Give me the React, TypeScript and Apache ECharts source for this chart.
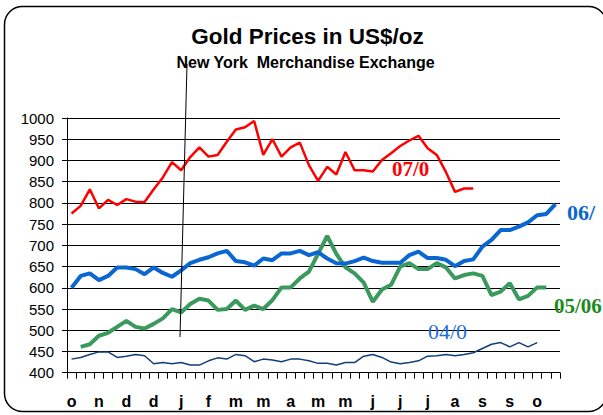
import React, { useEffect, useRef } from 'react';
import * as echarts from 'echarts';

// 54 weekly-ish categories
const weeks = Array.from({ length: 54 }, (_, i) => `w${i + 1}`);

// tick labels (every third category)
const tickLabels = [
  'o', '', '', 'n', '', '', 'd', '', '', 'd', '', '', 'j', '', '', 'f', '', '',
  'm', '', '', 'm', '', '', 'a', '', '', 'm', '', '', 'm', '', '', 'j', '', '',
  'j', '', '', 'j', '', '', 'a', '', '', 's', '', '', 's', '', '', 'o', '', '',
];

const s0708 = [
  775, 793, 832, 787, 807, 795, 809, 803, 802, 832, 860, 896, 877, 908, 931, 909, 913, 944,
  973, 978, 993, 913, 950, 909, 931, 942, 889, 852, 885, 867, 920, 877, 877, 874, 901, 917,
  934, 947, 958, 929, 913, 873, 826, 834, 834, null, null, null, null, null, null, null, null, null,
];

const s0607 = [
  600, 628, 634, 618, 628, 648, 648, 644, 632, 648, 635, 626, 641, 658, 666, 672, 681, 687,
  663, 660, 652, 669, 665, 681, 681, 687, 677, 684, 669, 658, 657, 663, 671, 663, 659, 659,
  659, 677, 685, 670, 670, 666, 651, 663, 667, 697, 713, 736, 736, 744, 754, 771, 774, 797,
];

const s0506 = [
  null, 461, 467, 487, 494, 508, 522, 508, 504, 515, 528, 550, 542, 562, 574, 570, 548, 550,
  570, 548, 558, 550, 571, 601, 601, 622, 638, 680, 722, 680, 648, 634, 612, 567, 596, 607,
  650, 658, 644, 644, 658, 648, 622, 630, 634, 628, 583, 591, 611, 573, 581, 601, 601, null,
];

const s0405 = [
  432, 436, 443, 449, 449, 436, 439, 443, 440, 421, 424, 421, 424, 418, 418, 428, 435, 432,
  443, 440, 426, 432, 430, 426, 432, 432, 428, 422, 422, 418, 424, 424, 439, 443, 436, 425,
  421, 424, 428, 439, 440, 443, 440, 443, 447, 457, 467, 471, 461, 471, 461, 471, null, null,
];

const SANS = 'Liberation Sans, Arial, sans-serif';
const SERIF = 'Liberation Serif, Times New Roman, serif';

export default function App() {
  const ref = useRef<HTMLDivElement>(null);
  useEffect(() => {
    const chart = echarts.init(ref.current!, null, { renderer: 'svg' });
    chart.setOption({
      animation: false,
      backgroundColor: '#fff',
      grid: { left: 67, top: 118, width: 493, height: 254.7, containLabel: false },
      xAxis: {
        type: 'category',
        data: weeks,
        boundaryGap: true,
        axisLine: { show: true, lineStyle: { color: '#000', width: 1 } },
        axisTick: { show: true, interval: 0, length: 6, lineStyle: { color: '#000', width: 1 } },
        axisLabel: {
          interval: 0,
          formatter: (_v: string, i: number) => tickLabels[i],
          color: '#000',
          fontSize: 16,
          fontWeight: 'bold',
          fontFamily: SANS,
          margin: 21,
        },
        splitLine: { show: false },
      },
      yAxis: {
        type: 'value',
        min: 400,
        max: 1000,
        interval: 50,
        axisLine: { show: true, lineStyle: { color: '#000', width: 1 } },
        axisTick: { show: true, length: 5, lineStyle: { color: '#000', width: 1 } },
        axisLabel: {
          color: '#000',
          fontSize: 15,
          fontFamily: SANS,
          margin: 13,
          formatter: (v: number) => String(v),
        },
        splitLine: { show: true, lineStyle: { color: '#000', width: 1 } },
      },
      series: [
        { name: '04/05', type: 'line', data: s0405, symbol: 'none', lineStyle: { color: '#123E78', width: 1.5 } },
        { name: '07/08', type: 'line', data: s0708, symbol: 'none', lineStyle: { color: '#FF0000', width: 2.5 } },
        { name: '05/06', type: 'line', data: s0506, symbol: 'none', lineStyle: { color: '#3A9A5E', width: 4 } },
        { name: '06/07', type: 'line', data: s0607, symbol: 'none', lineStyle: { color: '#0A66D0', width: 4 } },
      ],
      graphic: [
        {
          type: 'rect',
          shape: { x: 4.5, y: 6.5, width: 602, height: 405, r: 18 },
          style: { fill: 'none', stroke: '#000', lineWidth: 1.5 },
          silent: true,
        },
        {
          type: 'line',
          shape: { x1: 187, y1: 64, x2: 180, y2: 337 },
          style: { stroke: '#000', lineWidth: 1 },
          z: 100,
        },
        {
          type: 'text', x: 307.5, y: 36.7, z: 100,
          style: { text: 'Gold Prices in US$/oz', fill: '#000', fontSize: 22.5, fontWeight: 'bold', fontFamily: SANS, align: 'center', verticalAlign: 'middle' },
        },
        {
          type: 'text', x: 305.5, y: 62.8, z: 100,
          style: { text: 'New York  Merchandise Exchange', fill: '#000', fontSize: 16, fontWeight: 'bold', fontFamily: SANS, align: 'center', verticalAlign: 'middle' },
        },
        {
          type: 'text', x: 392, y: 169, z: 100,
          style: { text: '07/0', fill: '#FF0000', fontSize: 21, fontWeight: 'bold', fontFamily: SERIF, align: 'left', verticalAlign: 'middle' },
        },
        {
          type: 'text', x: 567, y: 212, z: 100,
          style: { text: '06/', fill: '#0A66D0', fontSize: 22, fontWeight: 'bold', fontFamily: SERIF, align: 'left', verticalAlign: 'middle' },
        },
        {
          type: 'text', x: 554, y: 306, z: 100,
          style: { text: '05/06', fill: '#1A8A1A', fontSize: 21, fontWeight: 'bold', fontFamily: SERIF, align: 'left', verticalAlign: 'middle' },
        },
        {
          type: 'text', x: 428, y: 331.5, z: 100,
          style: { text: '04/0', fill: '#1E6FD8', fontSize: 22, fontWeight: 'normal', fontFamily: SERIF, align: 'left', verticalAlign: 'middle' },
        },
      ],
    });
    return () => chart.dispose();
  }, []);
  return (
    <div
      ref={ref}
      style={{ position: 'absolute', left: 0, top: 0, width: 603, height: 415, background: '#fff' }}
    />
  );
}
